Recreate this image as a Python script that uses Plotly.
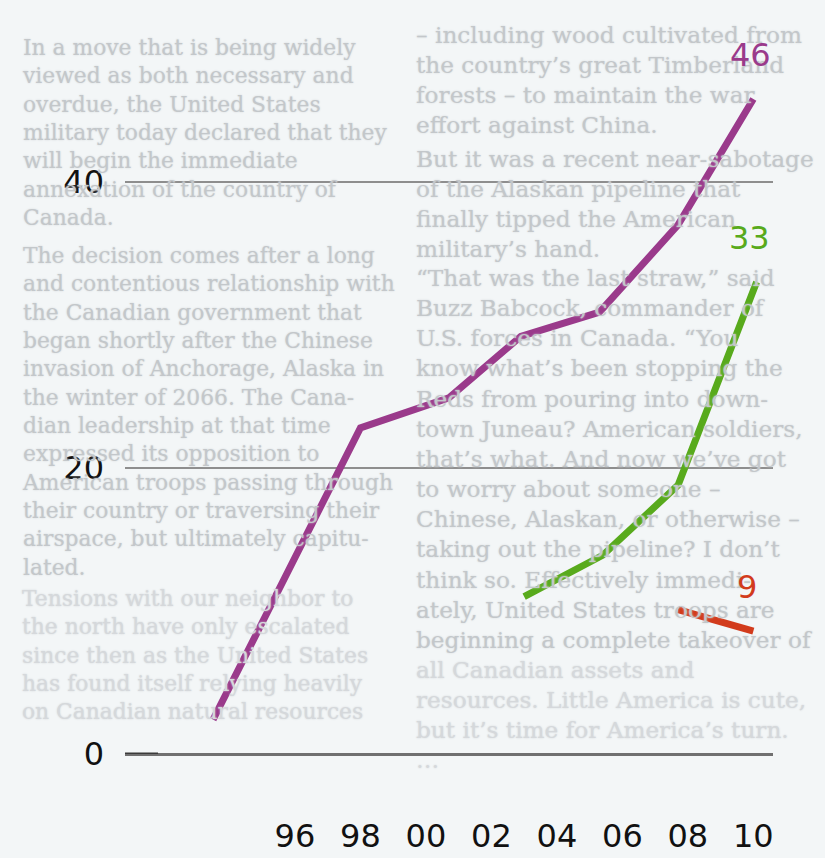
import plotly.graph_objects as go

# ---------------- data ----------------
purple_years = [1993.5, 1998.0, 2000.7, 2002.9, 2005.3, 2007.7, 2010.0]
purple_vals = [2.4, 22.8, 24.9, 29.2, 30.9, 37.0, 45.8]
green_years = [2003.0, 2005.4, 2007.7, 2010.1]
green_vals = [11.0, 13.9, 18.8, 33.0]
red_years = [2007.7, 2010.0]
red_vals = [10.1, 8.6]

x_tickvals = [1996, 1998, 2000, 2002, 2004, 2006, 2008, 2010]
x_ticktext = ["96", "98", "00", "02", "04", "06", "08", "10"]
y_tickvals = [0, 20, 40]
y_ticktext = ["0", "20", "40"]

# faint newspaper text behind the chart, one list per paragraph
left_paragraphs = [
    ["In a move that is being widely",
     "viewed as both necessary and",
     "overdue, the United States",
     "military today declared that they",
     "will begin the immediate",
     "annexation of the country of",
     "Canada."],
    ["The decision comes after a long",
     "and contentious relationship with",
     "the Canadian government that",
     "began shortly after the Chinese",
     "invasion of Anchorage, Alaska in",
     "the winter of 2066. The Cana-",
     "dian leadership at that time",
     "expressed its opposition to",
     "American troops passing through",
     "their country or traversing their",
     "airspace, but ultimately capitu-",
     "lated."],
    ["Tensions with our neighbor to",
     "the north have only escalated",
     "since then as the United States",
     "has found itself relying heavily",
     "on Canadian natural resources"],
]
left_par_y = [47, 256, 598]

right_paragraphs = [
    ["\u2013 including wood cultivated from",
     "the country\u2019s great Timberland",
     "forests \u2013 to maintain the war",
     "effort against China."],
    ["But it was a recent near-sabotage",
     "of the Alaskan pipeline that",
     "finally tipped the American",
     "military\u2019s hand."],
    ["\u201cThat was the last straw,\u201d said",
     "Buzz Babcock, commander of",
     "U.S. forces in Canada. \u201cYou",
     "know what\u2019s been stopping the",
     "Reds from pouring into down-",
     "town Juneau? American soldiers,",
     "that\u2019s what. And now we\u2019ve got",
     "to worry about someone \u2013",
     "Chinese, Alaskan, or otherwise \u2013",
     "taking out the pipeline? I don\u2019t",
     "think so. Effectively immedi-",
     "ately, United States troops are",
     "beginning a complete takeover of"],
    ["all Canadian assets and",
     "resources. Little America is cute,",
     "but it\u2019s time for America\u2019s turn.",
     "\u2026"],
]
right_par_y = [34, 158, 278, 669]

PURPLE = "#9a3a8b"
GREEN = "#58aa1c"
RED = "#d23b1c"

# ---------------- geometry (layout only) ----------------
W, H = 825, 858
L, R, T, B = 125, 52, 39, 104
PW, PH = W - L - R, H - T - B


def px(x):
    return (x - L) / PW


def py(y):
    return (H - B - y) / PH


fig = go.Figure()

for xs, ys, col in [(purple_years, purple_vals, PURPLE),
                    (green_years, green_vals, GREEN),
                    (red_years, red_vals, RED)]:
    fig.add_trace(go.Scatter(x=xs, y=ys, mode="lines",
                             line=dict(color=col, width=7),
                             hoverinfo="skip", showlegend=False))

annotations = []


def add_column(pars, ys, x0, size):
    step = 1.3 * size
    for lines, y0 in zip(pars, ys):
        col = "#c3c7ca" if y0 < 590 else "#d5d8db"
        yc = y0 + (len(lines) - 1) * step / 2
        annotations.append(dict(text="<br>".join(lines), xref="paper", yref="paper",
                                x=px(x0), y=py(yc), xanchor="left", yanchor="middle",
                                align="left", showarrow=False,
                                font=dict(family="DejaVu Serif", size=size, color=col,
                                          shadow="0px 0px 2px #d0d4d7")))


add_column(left_paragraphs, left_par_y, 20, 21.8)
add_column(right_paragraphs, right_par_y, 414, 23.2)

# end labels
for xs, ys, col, xsh in [(purple_years, purple_vals, PURPLE, -3),
                         (green_years, green_vals, GREEN, -7),
                         (red_years, red_vals, RED, -6)]:
    annotations.append(dict(text=str(round(ys[-1])), x=xs[-1], y=ys[-1],
                            xref="x", yref="y", showarrow=False,
                            xshift=xsh, yshift=44, xanchor="center", yanchor="middle",
                            font=dict(family="DejaVu Sans", size=32, color=col)))

fig.update_layout(
    width=W, height=H, autosize=False,
    margin=dict(l=L, r=R, t=T, b=B, pad=0),
    paper_bgcolor="#f3f6f7", plot_bgcolor="rgba(0,0,0,0)",
    annotations=annotations,
    shapes=[dict(type="line", xref="paper", yref="y", x0=0, x1=0.051, y0=0, y1=0,
                 line=dict(color="#3a3a3a", width=3), layer="above")],
    xaxis=dict(range=[1990.81, 2010.6], showgrid=False, zeroline=False, showline=False,
               automargin=False,
               tickmode="array", tickvals=x_tickvals, ticktext=x_ticktext, ticks="",
               ticklabelstandoff=60,
               tickfont=dict(family="DejaVu Sans", size=32, color="#111111")),
    yaxis=dict(range=[0, 50], showgrid=True, gridcolor="#8e8e8e", gridwidth=1.5,
               automargin=False,
               zeroline=True, zerolinecolor="#707070", zerolinewidth=3, showline=False,
               tickmode="array", tickvals=y_tickvals, ticktext=y_ticktext, ticks="",
               ticklabelstandoff=20,
               tickfont=dict(family="DejaVu Sans", size=32, color="#111111")),
)

fig.write_html("out.html", config={"displayModeBar": False},
               post_script="document.body.style.margin='0';document.body.style.padding='0';")
